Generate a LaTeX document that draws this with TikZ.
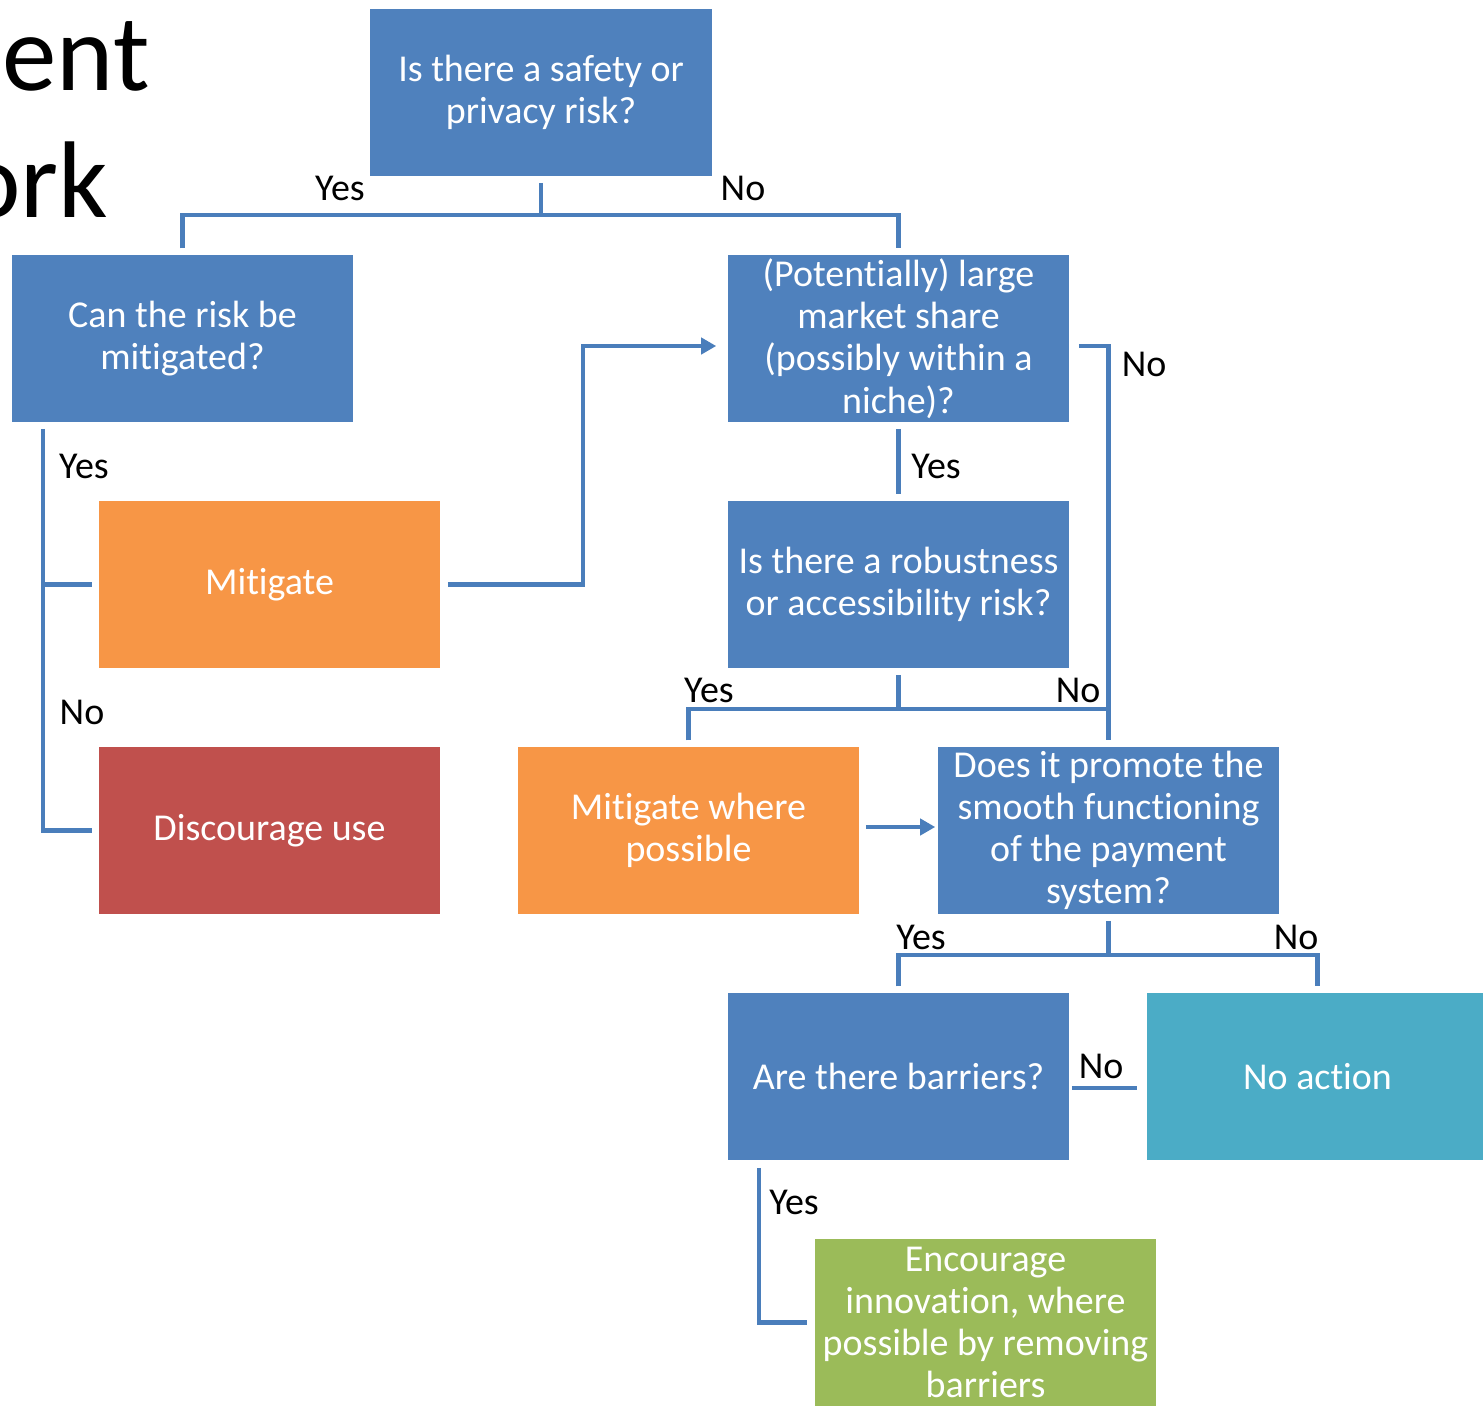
\documentclass[tikz,border=0pt]{standalone}
\usepackage{fontspec}
\setmainfont{Carlito}[RawFeature={-liga;-clig;-calt}]
\usetikzlibrary{arrows.meta}
\definecolor{boxblue}{HTML}{4F81BD}
\definecolor{boxorange}{HTML}{F79646}
\definecolor{boxred}{HTML}{C0504D}
\definecolor{boxteal}{HTML}{4BACC6}
\definecolor{boxgreen}{HTML}{9BBB59}
\definecolor{linkblue}{HTML}{4A7EBB}
\tikzset{
  qbox/.style    = {fill=boxblue,text=white,minimum width=3.41cm,minimum height=1.67cm,
                    inner sep=0pt,align=center,font=\fontsize{10.8}{12}\selectfont},
  abox/.style    = {qbox,fill=#1},
  link/.style    = {linkblue,line width=1.25pt},
  linkarr/.style = {link,-{Triangle[length=4.3pt,width=4.6pt]}},
  lbl/.style     = {inner sep=0pt,font=\fontsize{10.8}{12}\selectfont}
}

\begin{document}
\begin{tikzpicture}[x=0.01cm,y=-0.01cm]
  \useasboundingbox (0,0) rectangle (1483,1406);
  % cut-off title
  \node[inner sep=0pt,anchor=base west,font=\fontsize{31}{31}\selectfont] (ttlA) at (2,90) {ent};
  \node[inner sep=0pt,anchor=base east,font=\fontsize{31}{31}\selectfont] (ttlB) at (109,217) {ork};

  \node[qbox] (q1) at (541,92.5) {Is there a safety or\\privacy risk?};
  \node[qbox] (q2) at (182.5,338.5) {Can the risk be\\mitigated?};
  \node[qbox] (q3) at (898.5,338.5) {(Potentially) large\\market share\\(possibly within a\\niche)?};
  \node[abox=boxorange] (mit) at (269.5,584.5) {Mitigate};
  \node[qbox] (q4) at (898.5,584.5) {Is there a robustness\\or accessibility risk?};
  \node[abox=boxred] (disc) at (269.5,830.5) {Discourage use};
  \node[abox=boxorange] (mwp) at (688.5,830.5) {Mitigate where\\possible};
  \node[qbox] (q5) at (1108.5,830.5) {Does it promote the\\smooth functioning\\of the payment\\system?};
  \node[qbox] (q6) at (898.5,1076.5) {Are there barriers?};
  \node[abox=boxteal] (noact) at (1317.5,1076.5) {No action};
  \node[abox=boxgreen] (enc) at (985.5,1322.5) {Encourage\\innovation, where\\possible by removing\\barriers};

  % safety or privacy
  \draw[link] ([yshift=-0.06cm]q1.south) -- ++(0,32) coordinate (s1);
  \draw[link] ([yshift=0.06cm]q2.north) |- (s1) -| ([yshift=0.06cm]q3.north);
  \node[lbl] (l1yes) at (340,188) {Yes};
  \node[lbl] (l1no) at (743,188) {No};

  % mitigated?
  \coordinate (q2out) at ([shift={(32,6)}]q2.south west);
  \draw[link] (q2out) |- ([xshift=-0.06cm]disc.west);
  \draw[link] (mit.west -| q2out) -- ([xshift=-0.06cm]mit.west);
  \node[lbl] (l2yes) at (84,466) {Yes};
  \node[lbl] (l2no) at (82,712) {No};
  \draw[linkarr] ([xshift=0.07cm]mit.east) -- ++(135,0) |- ([shift={(-11,7.5)}]q3.west);

  % market share
  \draw[link] ([yshift=-0.06cm]q3.south) -- ([yshift=0.06cm]q4.north);
  \draw[link] ([shift={(9,7.5)}]q3.east) -| ([yshift=0.06cm]q5.north);
  \node[lbl] (l3yes) at (936,466) {Yes};
  \node[lbl] (l3no) at (1144,364) {No};

  % robustness
  \draw[link] ([yshift=-0.06cm]q4.south) -- ++(0,34) coordinate (s4);
  \draw[link] ([yshift=0.06cm]mwp.north) |- (s4) -- (s4 -| q5.north);
  \node[lbl] (l4yes) at (709,690) {Yes};
  \node[lbl] (l4no) at (1078,690) {No};
  \draw[linkarr] ([shift={(6,-3.5)}]mwp.east) -- ([shift={(-2,-3.5)}]q5.west);

  % payment system
  \draw[link] ([yshift=-0.06cm]q5.south) -- ++(0,34) coordinate (s5);
  \draw[link] ([yshift=0.06cm]q6.north) |- (s5) -| ([yshift=0.06cm]noact.north);
  \node[lbl] (l5yes) at (921,937) {Yes};
  \node[lbl] (l5no) at (1296,937) {No};

  % barriers
  \draw[link] ([shift={(2,11.5)}]q6.east) -- ([shift={(-9,11.5)}]noact.west);
  \draw[link] ([shift={(32,7)}]q6.south west) |- ([xshift=-0.07cm]enc.west);
  \node[lbl] (l6no) at (1101,1066) {No};
  \node[lbl] (l6yes) at (794,1202) {Yes};
\end{tikzpicture}
\end{document}
